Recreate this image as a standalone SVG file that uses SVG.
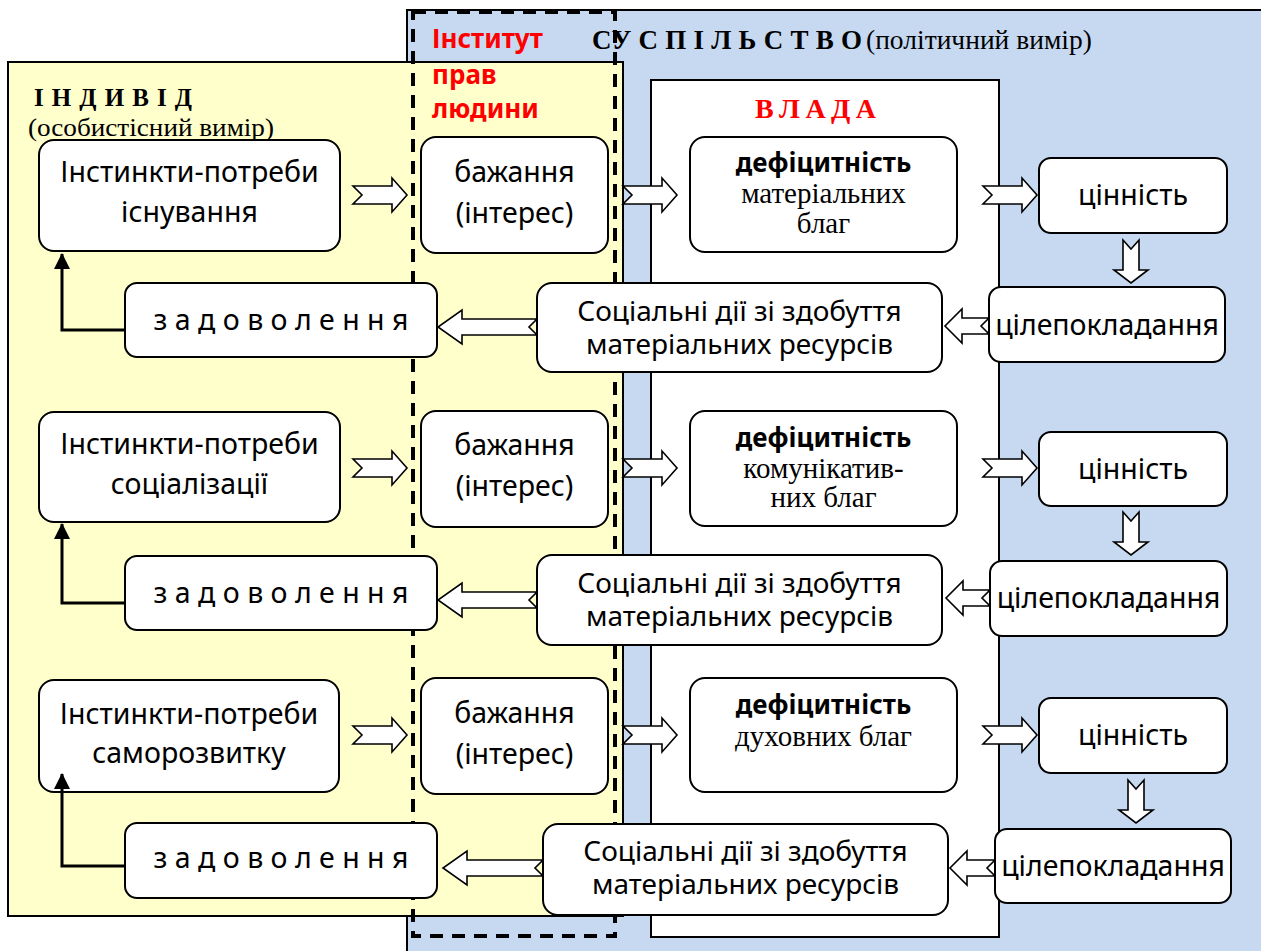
<svg xmlns="http://www.w3.org/2000/svg" width="1261" height="951" viewBox="0 0 1261 951">
<style>
.box{fill:#fff;stroke:#000;stroke-width:2}
.arr{fill:#fff;stroke:#000;stroke-width:1.6;stroke-linejoin:miter}
.fb{fill:none;stroke:#000;stroke-width:3}
.t{font-family:"Noto Sans","Open Sans","Liberation Sans",sans-serif;font-size:28.5px;fill:#000;text-anchor:middle}
.t2{font-family:"Noto Sans","Open Sans","Liberation Sans",sans-serif;font-size:28px;fill:#000;text-anchor:middle}
.tb{font-family:"Noto Sans","Open Sans","Liberation Sans",sans-serif;font-size:26px;font-weight:bold;fill:#000;text-anchor:middle}
.s{font-family:"Liberation Serif","Times New Roman",serif;font-size:29px;fill:#000;text-anchor:middle}
.red{font-family:"Noto Sans","Open Sans","Liberation Sans",sans-serif;font-size:26px;font-weight:bold;fill:#ff0000}
.hdr{font-family:"Liberation Serif","Times New Roman",serif;font-weight:bold;font-size:27px;fill:#000}
.sub{font-family:"Liberation Serif","Times New Roman",serif;font-size:27.5px;fill:#000}
</style>
<defs>
<marker id="ah" markerUnits="userSpaceOnUse" markerWidth="16" markerHeight="16" viewBox="0 0 16 16" refX="15" refY="8" orient="auto">
<path d="M0,0 L16,8 L0,16 Z" fill="#000"/>
</marker>
</defs>

<g id="society">
<rect x="407" y="10" width="860" height="950" fill="#C6D9F1" stroke="#000" stroke-width="2"/>
</g>
<g id="individual">
<rect x="8" y="62" width="615" height="854" fill="#FFFFCC" stroke="#000" stroke-width="2"/>
</g>
<g id="vlada">
<rect x="651" y="80" width="348" height="857" fill="#fff" stroke="#000" stroke-width="2"/>
</g>

<g id="titles">
<text class="hdr" x="34" y="106" style="font-size:25px" textLength="158" lengthAdjust="spacing">І Н Д И В І Д</text>
<text class="sub" x="28" y="136" style="font-size:26px" textLength="246" lengthAdjust="spacingAndGlyphs">(особистісний вимір)</text>
<text class="red" x="432" y="48">Інститут</text>
<text class="red" x="432" y="84">прав</text>
<text class="red" x="432" y="118">людини</text>
<text class="hdr" x="592" y="49" textLength="270" lengthAdjust="spacing">СУ С П І Л Ь С Т В О</text>
<text class="sub" x="866" y="49">(політичний вимір)</text>
<text class="hdr" x="755" y="118" style="fill:#ff0000;font-size:28px" textLength="121" lengthAdjust="spacing">В Л А Д А</text>
</g>

<g id="institute">
<rect x="413" y="12" width="202" height="924" fill="none" stroke="#000" stroke-width="4" stroke-dasharray="13,9"/>
</g>

<g id="connectors">
<!-- row 1 -->
<path class="arr" d="M353,186 H392 V178 L407,195 L392,212 V204 H353 L362,195 Z"/>
<path class="arr" d="M623,186 H662 V178 L677,195 L662,212 V204 H623 L632,195 Z"/>
<path class="arr" d="M983,186 H1022 V178 L1037,195 L1022,212 V204 H983 L992,195 Z"/>
<path class="arr" d="M1123,240 L1131,249 L1139,240 V270 H1148 L1131,283 L1114,270 H1123 Z"/>
<path class="arr" d="M989,318 H962 V309 L945,326 L962,343 V334 H989 L981,326 Z"/>
<path class="arr" d="M537,319 H462 V310 L438,327 L462,344 V335 H537 L529,327 Z"/>
<!-- row 2 -->
<path class="arr" d="M353,459 H392 V451 L407,468 L392,485 V477 H353 L362,468 Z"/>
<path class="arr" d="M623,459 H662 V451 L677,468 L662,485 V477 H623 L632,468 Z"/>
<path class="arr" d="M983,459 H1022 V451 L1037,468 L1022,485 V477 H983 L992,468 Z"/>
<path class="arr" d="M1123,512 L1131,521 L1139,512 V542 H1148 L1131,555 L1114,542 H1123 Z"/>
<path class="arr" d="M990,590 H963 V581 L946,598 L963,615 V606 H990 L982,598 Z"/>
<path class="arr" d="M537,592 H462 V583 L438,600 L462,617 V608 H537 L529,600 Z"/>
<!-- row 3 -->
<path class="arr" d="M353,726 H392 V718 L407,735 L392,752 V744 H353 L362,735 Z"/>
<path class="arr" d="M623,726 H662 V718 L677,735 L662,752 V744 H623 L632,735 Z"/>
<path class="arr" d="M983,726 H1022 V718 L1037,735 L1022,752 V744 H983 L992,735 Z"/>
<path class="arr" d="M1128,780 L1136,789 L1144,780 V810 H1153 L1136,823 L1119,810 H1128 Z"/>
<path class="arr" d="M995,860 H967 V851 L950,868 L967,885 V876 H995 L987,868 Z"/>
<path class="arr" d="M543,860 H467 V851 L443,868 L467,885 V876 H543 L535,868 Z"/>
</g>

<g id="row1">
<g id="inst1"><rect class="box" x="39" y="140" width="301" height="111" rx="15"/><text class="t" x="189.5" y="182">Інстинкти-потреби</text><text class="t" x="189.5" y="222">існування</text></g>
<g id="baj1"><rect class="box" x="421" y="137" width="187" height="116" rx="15"/><text class="t" x="514.5" y="182">бажання</text><text class="t" x="514.5" y="223">(інтерес)</text></g>
<g id="def1"><rect class="box" x="690" y="137" width="267" height="115" rx="15"/><text class="tb" x="823.5" y="172">дефіцитність</text><text class="s" x="823.5" y="203">матеріальних</text><text class="s" x="823.5" y="233">благ</text></g>
<g id="cin1"><rect class="box" x="1039" y="158" width="188" height="75" rx="12"/><text class="t" x="1133" y="205">цінність</text></g>
<g id="cil1"><rect class="box" x="989" y="287" width="236" height="75" rx="12"/><text class="t" x="1107" y="335">цілепокладання</text></g>
<g id="soc1"><rect class="box" x="537" y="283" width="405" height="89" rx="15"/><text class="t2" x="739.5" y="321">Соціальні дії зі здобуття</text><text class="t2" x="739.5" y="354">матеріальних ресурсів</text></g>
<g id="zad1"><rect class="box" x="125" y="283" width="312" height="74" rx="12"/><text class="t" x="281" y="330">з а д о в о л е н н я</text></g>
</g>

<g id="row2">
<g id="inst2"><rect class="box" x="39" y="412" width="301" height="110" rx="15"/><text class="t" x="189.5" y="454">Інстинкти-потреби</text><text class="t" x="189.5" y="494">соціалізації</text></g>
<g id="baj2"><rect class="box" x="421" y="411" width="187" height="116" rx="15"/><text class="t" x="514.5" y="455">бажання</text><text class="t" x="514.5" y="496">(інтерес)</text></g>
<g id="def2"><rect class="box" x="690" y="411" width="267" height="115" rx="15"/><text class="tb" x="823.5" y="447">дефіцитність</text><text class="s" x="823.5" y="478">комунікатив-</text><text class="s" x="823.5" y="507">них благ</text></g>
<g id="cin2"><rect class="box" x="1039" y="432" width="188" height="74" rx="12"/><text class="t" x="1133" y="479">цінність</text></g>
<g id="cil2"><rect class="box" x="990" y="561" width="237" height="75" rx="12"/><text class="t" x="1108.5" y="608">цілепокладання</text></g>
<g id="soc2"><rect class="box" x="537" y="555" width="405" height="90" rx="15"/><text class="t2" x="739.5" y="593">Соціальні дії зі здобуття</text><text class="t2" x="739.5" y="626">матеріальних ресурсів</text></g>
<g id="zad2"><rect class="box" x="125" y="556" width="312" height="74" rx="12"/><text class="t" x="281" y="603">з а д о в о л е н н я</text></g>
</g>

<g id="row3">
<g id="inst3"><rect class="box" x="39" y="680" width="300" height="112" rx="15"/><text class="t" x="189" y="724">Інстинкти-потреби</text><text class="t" x="189" y="763">саморозвитку</text></g>
<g id="baj3"><rect class="box" x="421" y="678" width="187" height="116" rx="15"/><text class="t" x="514.5" y="723">бажання</text><text class="t" x="514.5" y="764">(інтерес)</text></g>
<g id="def3"><rect class="box" x="690" y="678" width="267" height="114" rx="15"/><text class="tb" x="823.5" y="714">дефіцитність</text><text class="s" x="823.5" y="746">духовних благ</text></g>
<g id="cin3"><rect class="box" x="1039" y="698" width="188" height="75" rx="12"/><text class="t" x="1133" y="745">цінність</text></g>
<g id="cil3"><rect class="box" x="995" y="829" width="236" height="74" rx="12"/><text class="t" x="1113" y="876">цілепокладання</text></g>
<g id="soc3"><rect class="box" x="543" y="824" width="405" height="91" rx="15"/><text class="t2" x="745.5" y="861">Соціальні дії зі здобуття</text><text class="t2" x="745.5" y="894">матеріальних ресурсів</text></g>
<g id="zad3"><rect class="box" x="125" y="823" width="312" height="75" rx="12"/><text class="t" x="281" y="868">з а д о в о л е н н я</text></g>
</g>

<g id="feedback">
<polyline class="fb" points="125,330 62,330 62,254" marker-end="url(#ah)"/>
<polyline class="fb" points="125,603 62,603 62,524" marker-end="url(#ah)"/>
<polyline class="fb" points="125,866 62,866 62,774" marker-end="url(#ah)"/>
</g>
</svg>
